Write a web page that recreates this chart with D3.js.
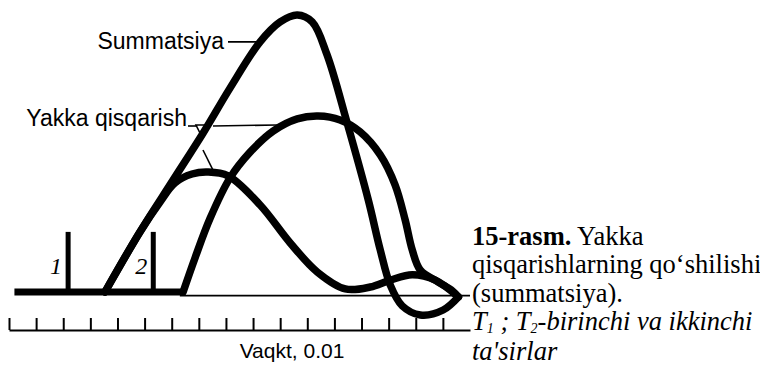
<!DOCTYPE html>
<html>
<head>
<meta charset="utf-8">
<script src="https://cdn.jsdelivr.net/npm/d3@7"></script>
<style>
  body { margin: 0; background: #fff; }
  .sans { font-family: "Liberation Sans", Arial, sans-serif; }
  .serif { font-family: "Liberation Serif", "Times New Roman", serif; }
</style>
</head>
<body>
<svg id="chart" width="760" height="378"></svg>
<script>
// time in ticks of 0.01 s, force in % of the summed peak
const tickTimes = d3.range(0, 17);
const stimulusTimes = [2.18, 5.32];
const stimulusLabels = ["1", "2"];

const summationCurve = [
  [3.54, 0], [4.83, 21.7], [6.05, 40.4], [7.16, 57.4], [8.15, 73.6],
  [9.26, 90.3], [10.0, 97.5], [10.63, 100], [11.18, 97.5], [11.73, 85.6],
  [12.47, 61.0], [13.25, 33.2], [13.69, 15.2], [14.06, 2.5], [14.5, -5.0],
  [15.17, -8.3], [16.01, -6.5], [16.57, -1.8]
];
const twitchOne = [
  [3.54, 0], [4.83, 21.7], [5.57, 32.5], [6.12, 39.4], [6.75, 42.6],
  [7.34, 43.3], [8.08, 41.9], [9.26, 31.4], [10.37, 17.7], [11.37, 7.2],
  [12.4, 1.1], [13.32, 1.8], [14.06, 4.3], [14.87, 6.2], [15.72, 4.3],
  [16.57, -1.8]
];
const twitchTwo = [
  [6.42, 0], [6.86, 12.3], [7.42, 26.7], [8.15, 41.2], [8.89, 50.5],
  [9.74, 58.1], [10.63, 62.5], [11.4, 63.5], [12.21, 62.1], [12.95, 57.8],
  [13.69, 49.5], [14.24, 38.6], [14.61, 26.0], [14.87, 15.2], [15.17, 7.9],
  [15.83, 3.6], [16.35, 0.4], [16.57, -1.8]
];

const svg = d3.select("#chart");

const x = d3.scaleLinear().domain([0, 17]).range([9, 470]);
const y = d3.scaleLinear().domain([0, 100]).range([292, 15]);

const line = d3.line()
  .x((d) => x(d[0]))
  .y((d) => y(d[1]))
  .curve(d3.curveCatmullRom.alpha(0.5));

//thin rest line under the curves, then the thick one where the stimuli sit
svg.append("line")
  .attr("x1", x(6.3)).attr("x2", x(17))
  .attr("y1", y(-1.3)).attr("y2", y(-1.3))
  .attr("stroke", "#000").attr("stroke-width", 1.6);

svg.append("line")
  .attr("x1", x(0.2)).attr("x2", x(6.5))
  .attr("y1", y(0)).attr("y2", y(0))
  .attr("stroke", "#000").attr("stroke-width", 7);

//stimulus marks
svg.selectAll(".stim")
  .data(stimulusTimes)
  .enter()
  .append("line")
  .attr("class", "stim")
  .attr("x1", (d) => x(d)).attr("x2", (d) => x(d))
  .attr("y1", y(0)).attr("y2", y(21.7))
  .attr("stroke", "#000").attr("stroke-width", 5);

svg.selectAll(".stimLabel")
  .data(stimulusLabels)
  .enter()
  .append("text")
  .attr("class", "serif")
  .attr("x", (d, i) => x(stimulusTimes[i]) - 6)
  .attr("y", y(6.5))
  .attr("text-anchor", "end")
  .attr("font-style", "italic")
  .attr("font-size", 24)
  .text((d) => d);

//the three curves
[twitchOne, twitchTwo, summationCurve].forEach((curve) => {
  svg.append("path")
    .datum(curve)
    .attr("d", line)
    .attr("fill", "none")
    .attr("stroke", "#000")
    .attr("stroke-width", 7.5)
    .attr("stroke-linecap", "round")
    .attr("stroke-linejoin", "round");
});

//time axis
const axis = d3.axisTop(x)
  .tickValues(tickTimes)
  .tickSize(12)
  .tickSizeOuter(0)
  .tickFormat("");

const axisG = svg.append("g")
  .attr("transform", "translate(0,330)")
  .call(axis);
axisG.selectAll("path, line").attr("stroke", "#000").attr("stroke-width", 2);

svg.append("text")
  .attr("class", "sans")
  .attr("x", 292)
  .attr("y", 358)
  .attr("text-anchor", "middle")
  .attr("font-size", 21)
  .text("Vaqkt, 0.01");

//labels with leader lines
svg.append("text")
  .attr("class", "sans")
  .attr("x", 224)
  .attr("y", 49)
  .attr("text-anchor", "end")
  .attr("font-size", 23)
  .text("Summatsiya");

svg.append("line")
  .attr("x1", 228).attr("x2", x(9.33))
  .attr("y1", y(90.3)).attr("y2", y(90.3))
  .attr("stroke", "#000").attr("stroke-width", 1.6);

svg.append("text")
  .attr("class", "sans")
  .attr("x", 187)
  .attr("y", 126)
  .attr("text-anchor", "end")
  .attr("font-size", 23)
  .text("Yakka qisqarish");

const leader = svg.append("g")
  .attr("fill", "none")
  .attr("stroke", "#000")
  .attr("stroke-width", 1.6);
leader.append("line").attr("x1", 188).attr("y1", 126).attr("x2", 197).attr("y2", 126);
leader.append("path").attr("d", "M196,125 L206,125 L201,135 Z");
leader.append("line").attr("x1", 213).attr("y1", 126).attr("x2", x(9.88)).attr("y2", y(60.3));
leader.append("line").attr("x1", 203).attr("y1", 150).attr("x2", x(7.6)).attr("y2", y(42.5));

//caption
const cap = svg.append("text").attr("class", "serif").attr("font-size", 26.5);
cap.append("tspan").attr("x", 472).attr("y", 245).attr("font-weight", "bold").text("15-rasm.");
cap.append("tspan").text(" Yakka");
cap.append("tspan").attr("x", 472).attr("y", 273).text("qisqarishlarning qo‘shilishi");
cap.append("tspan").attr("x", 472).attr("y", 302).text("(summatsiya).");

//subscripts kept inside one text run so they sit on the same line
const cap2 = svg.append("text").attr("class", "serif").attr("font-size", 26.5).attr("font-style", "italic");
cap2.append("tspan").attr("x", 472).attr("y", 330).text("T");
cap2.append("tspan").attr("font-size", 14).attr("dy", 3).text("1");
cap2.append("tspan").attr("dy", -3).text(" ; T");
cap2.append("tspan").attr("font-size", 14).attr("dy", 3).text("2");
cap2.append("tspan").attr("dy", -3).text("-birinchi va ikkinchi");

svg.append("text")
  .attr("class", "serif")
  .attr("font-size", 26.5)
  .attr("font-style", "italic")
  .attr("x", 472)
  .attr("y", 360)
  .text("ta'sirlar");
</script>
</body>
</html>
